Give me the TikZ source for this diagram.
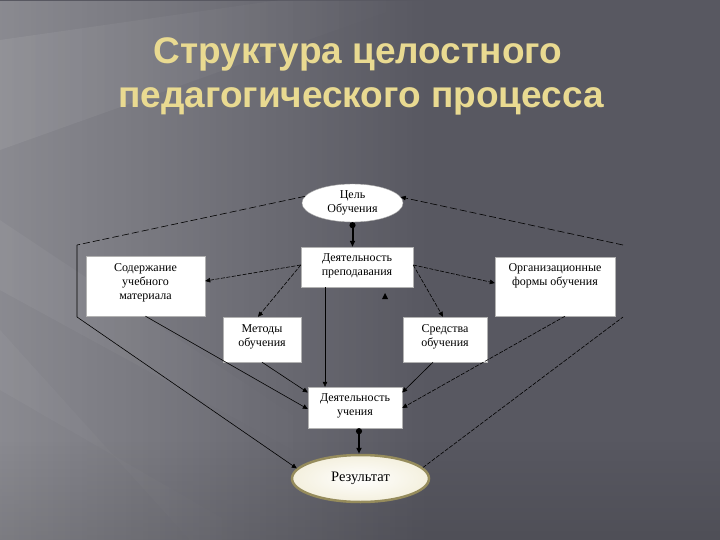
\documentclass[tikz,border=0pt]{standalone}
\usepackage{fontspec}
\setmainfont{Liberation Serif}
\newfontfamily\titlefont{Liberation Sans}
\usetikzlibrary{shapes.geometric,arrows.meta,fadings,calc}
\definecolor{bgbase}{RGB}{88,88,97}
\definecolor{titlegold}{RGB}{233,218,145}
\definecolor{resborder}{RGB}{150,140,92}
\definecolor{rescream}{RGB}{244,240,222}
\newcommand{\boxtxt}[4]{\parbox[c][#2][t]{#1}{\centering\vspace*{#3}#4\par}}
\tikzset{
  box/.style={draw=gray!60, line width=0.4pt, fill=white, inner sep=0pt, font=\fontsize{12}{14}\selectfont},
  oval/.style={ellipse, draw=gray!70, line width=0.4pt, fill=white, inner sep=0pt, align=center, font=\fontsize{12}{14}\selectfont},
  conn/.style={draw=black, line width=0.6pt},
  arr/.style={conn, -{Triangle[length=5pt,width=4.5pt]}},
  dsh/.style={dash pattern=on 4pt off 1.5pt},
  longdsh/.style={dash pattern=on 7pt off 3pt},
  thickarr/.style={draw=black, line width=2pt, {Circle[length=6pt]}-{Triangle[length=6pt,width=5pt]}},
  titletext/.style={font=\titlefont\bfseries\fontsize{37}{40}\selectfont, anchor=base, text=titlegold}
}
\begin{document}
\begin{tikzpicture}[x=1pt,y=-1pt]
\useasboundingbox (0,0) rectangle (720,540);
% background
\fill[bgbase] (0,0) rectangle (720,540);
\fill[white, opacity=0.30, path fading=east] (0,0) rectangle (430,540);
\fill[white, opacity=0.07, path fading=east] (0,40) -- (0,150) -- (420,0) -- (280,0) -- cycle;
\fill[white, opacity=0.05, path fading=east] (0,220) -- (0,290) -- (330,470) -- (330,440) -- cycle;
\fill[white, opacity=0.04, path fading=east] (0,330) -- (0,390) -- (260,540) -- (190,540) -- cycle;
\fill[black, opacity=0.10, path fading=north] (0,440) rectangle (720,540);
% title
\node[titletext] (t1) at (358,64) {Структура целостного};
\node[titletext] (t2) at (361,108) {педагогического процесса};
% nodes
\node[oval, minimum width=101pt, minimum height=38pt] (goal) at (352.5,203) {Цель\\Обучения};
\node[box] (teach) at (357,267) {\boxtxt{112pt}{40pt}{7pt}{Деятельность\\преподавания}};
\node[box] (content) at (145.5,286) {\boxtxt{119pt}{60pt}{7.5pt}{Содержание\\учебного\\материала}};
\node[box] (org) at (555,286.5) {\boxtxt{120pt}{59pt}{6.5pt}{Организационные\\формы обучения}};
\node[box] (methods) at (262,339.5) {\boxtxt{78pt}{45pt}{7.5pt}{Методы\\обучения}};
\node[box] (means) at (445,339.5) {\boxtxt{84pt}{45pt}{7.5pt}{Средства\\обучения}};
\node[box] (learn) at (355,407.5) {\boxtxt{94pt}{41pt}{6.5pt}{Деятельность\\учения}};
\node[ellipse, draw=resborder, line width=2.5pt, inner color=white, outer color=rescream,
      minimum width=137pt, minimum height=47pt, inner sep=0pt,
      font=\fontsize{14.5}{16}\selectfont] (result) at (360.5,478.5) {Результат};
% helper coordinates
\coordinate (L1) at (77,245);
\coordinate (L2) at (77,317);
\coordinate (R1) at (623,245);
\coordinate (R2) at (623,317);
\coordinate (vx) at (325,0);
% connectors
\draw[thickarr] (goal.south) -- (goal.south |- teach.north);
\draw[conn, longdsh] (goal.172) -- (L1);
\draw[arr] (L1) -- (L2) -- (result.171);
\draw[conn, dsh] (result.10) -- (R2);
\draw[arr, longdsh] (R1) -- (goal.7);
\draw[arr, dsh] ([yshift=2pt]teach.west) -- ([yshift=5pt]content.east);
\draw[arr, dsh] ([yshift=2pt]teach.west) -- ([xshift=-4pt]methods.north);
\draw[arr, dsh] ([yshift=2pt]teach.east) -- ([yshift=3.5pt]org.west);
\draw[arr, dsh] ([yshift=2pt]teach.east) -- ([xshift=-2pt]means.north);
\draw[arr] (teach.south -| vx) -- (learn.north -| vx);
\fill[black] (382,299) -- (388,299) -- (385,293) -- cycle;
\draw[arr] (methods.south) -- ([yshift=15pt]learn.west);
\draw[arr] (content.south) -- ([yshift=-1.5pt]learn.west);
\draw[arr] ([xshift=-12pt]means.south) -- ([yshift=15pt]learn.east);
\draw[arr, dsh] ([xshift=10pt]org.south) -- ([yshift=-0.5pt]learn.east);
\draw[thickarr] ([xshift=4pt]learn.south) -- ([xshift=4pt]learn.south |- result.north);
\end{tikzpicture}
\end{document}
